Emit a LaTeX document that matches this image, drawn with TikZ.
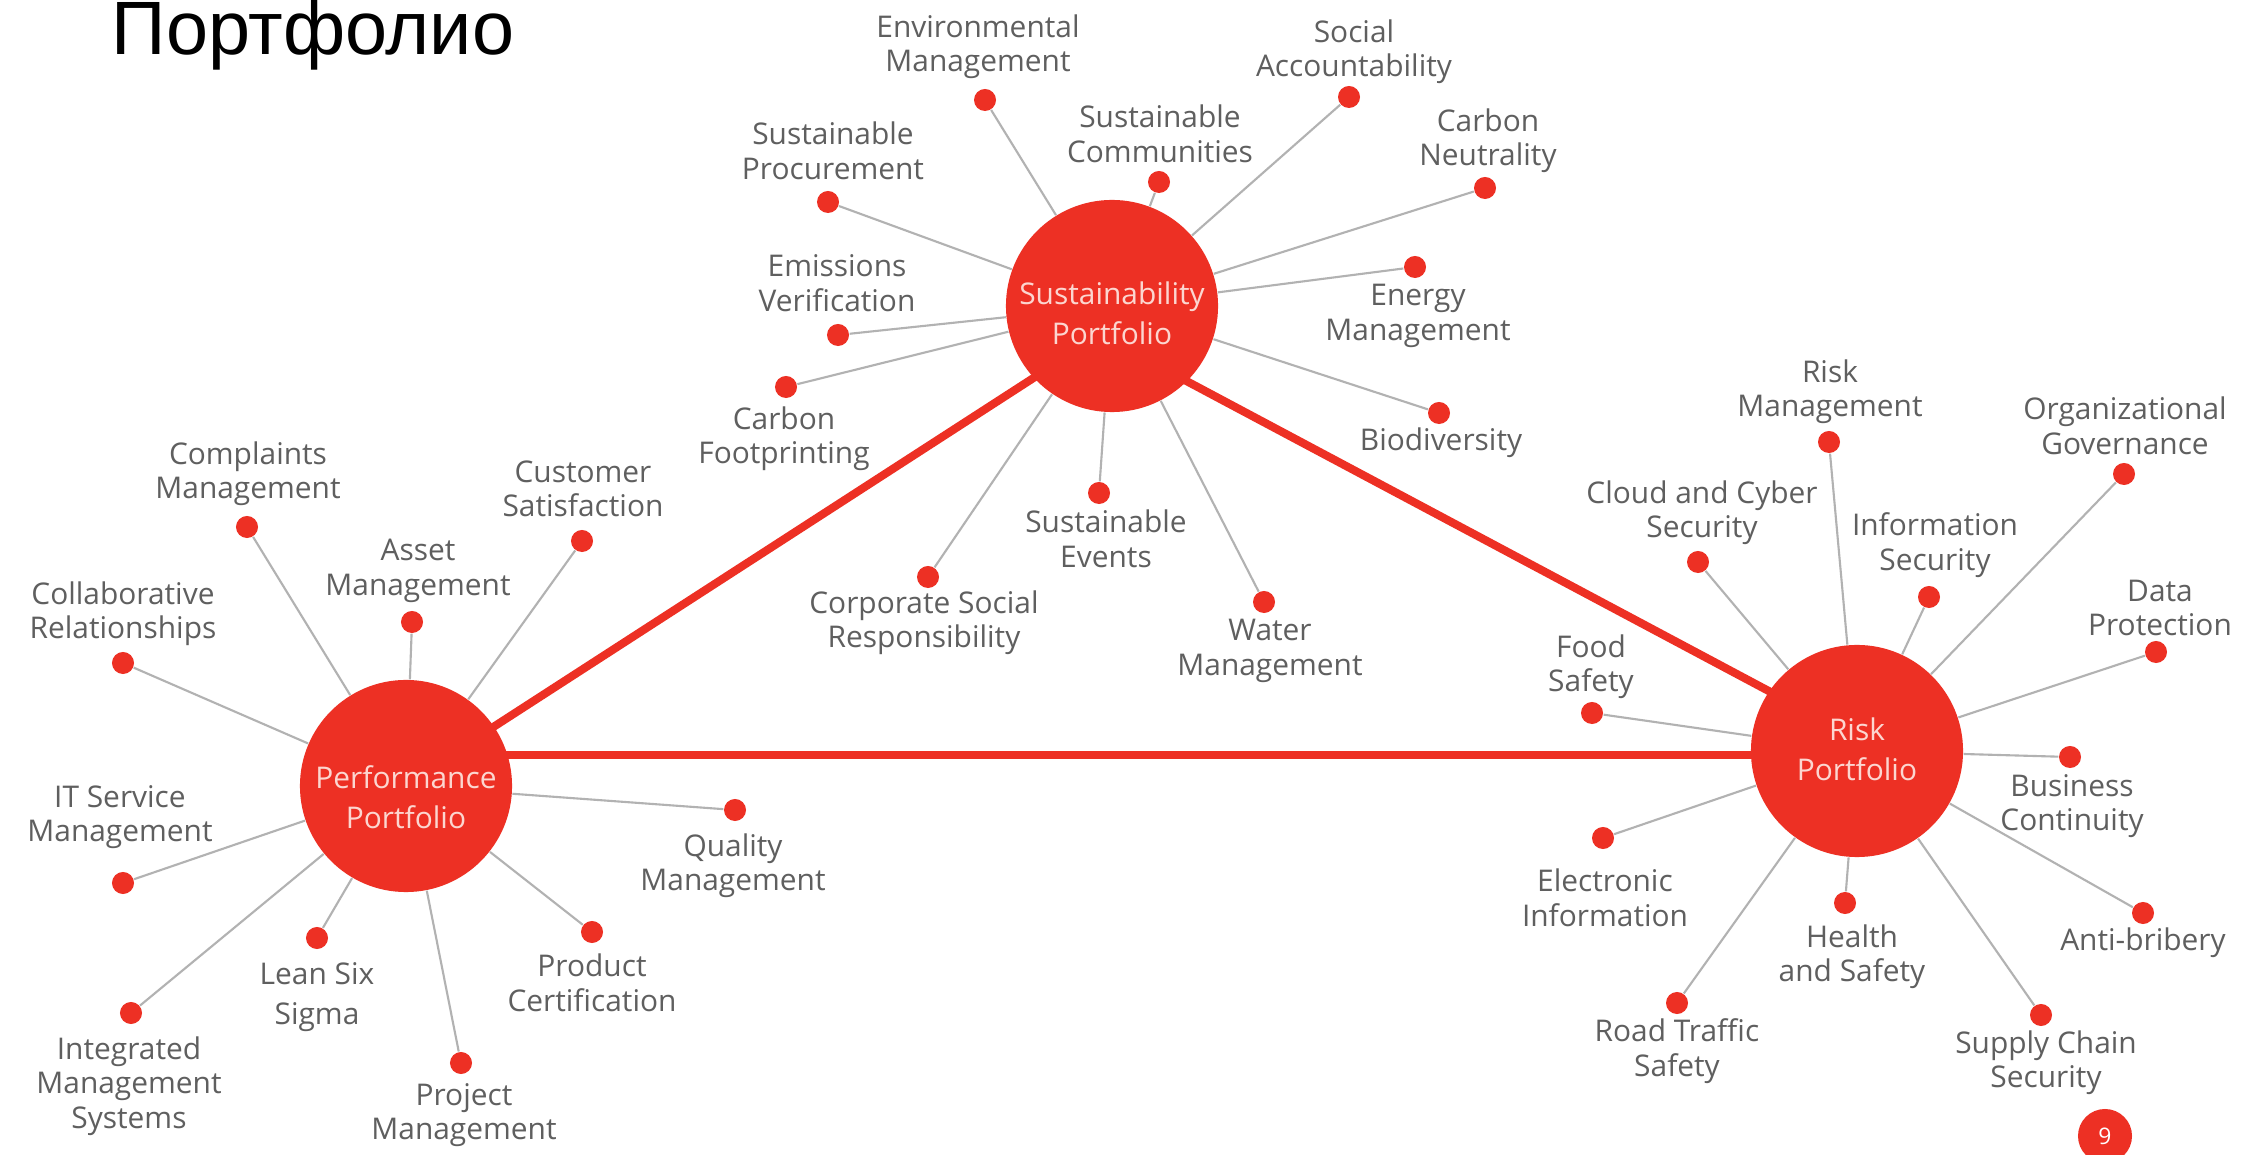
\documentclass[tikz,border=0pt]{standalone}
\usepackage{fontspec}
\setmainfont{Open Sans}
\newfontfamily\titlefont{Liberation Sans}
\definecolor{pred}{RGB}{237,48,36}
\definecolor{lblgray}{RGB}{95,95,95}
\definecolor{spokegray}{RGB}{178,178,178}
\definecolor{hubtext}{RGB}{252,214,208}
\begin{document}
\begin{tikzpicture}[x=0.01cm,y=-0.01cm,
  hubnode/.style={circle,fill=pred,minimum size=2.12cm,inner sep=0pt},
  hubtxt/.style={text=hubtext,align=center,inner sep=0pt,font=\fontsize{8.5}{11.4}\selectfont},
  dotnode/.style={circle,fill=pred,minimum size=0.22cm,inner sep=0pt},
  lbl/.style={text=lblgray,align=center,inner sep=0pt,font=\fontsize{8.5}{9.8}\selectfont},
  spoke/.style={spokegray,line width=0.6pt},
  tri/.style={pred,line width=2.3pt}]
\useasboundingbox (0,0) rectangle (2241,1155);
\fill[white] (0,0) rectangle (2241,1155);

% title
\node[anchor=base west,inner sep=0pt,font=\titlefont\fontsize{21.5}{24}\selectfont] (title) at (111,55) {Портфолио};

% triangle anchor points
\coordinate (tP) at (450,755);
\coordinate (tS) at (1100,335);
\coordinate (tRa) at (1857,738);
\coordinate (tRb) at (1857,755);
\draw[tri] (tP) -- (tRb);
\draw[tri] (tS) -- (tRa);

% hubs
\node[hubnode] (perf) at (406,786) {};
\draw[tri] (tP) -- (tS);
\node[hubnode] (sust) at (1112,306) {};
\node[hubnode] (risk) at (1857,751) {};
\node[hubtxt] (sustT) at (1112,313) {Sustainability\\Portfolio};
\node[hubtxt] (perfT) at (406,797) {Performance\\Portfolio};
\node[hubtxt] (riskT) at (1857,749) {Risk\\Portfolio};

% sustainability dots
\node[dotnode] (s1) at (985,100) {};
\node[dotnode] (s2) at (828,202) {};
\node[dotnode] (s3) at (838,335) {};
\node[dotnode] (s4) at (786,387) {};
\node[dotnode] (s5) at (928,577) {};
\node[dotnode] (s6) at (1099,493) {};
\node[dotnode] (s7) at (1264,602) {};
\node[dotnode] (s8) at (1439,413) {};
\node[dotnode] (s9) at (1415,267) {};
\node[dotnode] (s10) at (1485,188) {};
\node[dotnode] (s11) at (1349,97) {};
\node[dotnode] (s12) at (1159,182) {};
\foreach \d in {s1,s2,s3,s4,s5,s6,s7,s8,s9,s10,s11,s12} \draw[spoke] (sust) -- (\d);

\node[lbl] (s1l) at (978,47) {Environmental\\Management};
\node[lbl] (s2l) at (833,151) {Sustainable\\Procurement};
\node[lbl] (s3l) at (837,283) {Emissions\\Verification};
\node[lbl] (s4l) at (784,439) {Carbon\\Footprinting};
\node[lbl] (s5l) at (924,623) {Corporate Social\\Responsibility};
\node[lbl] (s6l) at (1106,539) {Sustainable\\Events};
\node[lbl] (s7l) at (1270,651) {Water\\Management};
\node[lbl] (s8l) at (1441,443) {Biodiversity};
\node[lbl] (s9l) at (1418,316) {Energy\\Management};
\node[lbl] (s10l) at (1488,141) {Carbon\\Neutrality};
\node[lbl] (s11l) at (1354,52) {Social\\Accountability};
\node[lbl] (s12l) at (1160,134) {Sustainable\\Communities};

% performance dots
\node[dotnode] (p1) at (247,527) {};
\node[dotnode] (p2) at (123,663) {};
\node[dotnode] (p3) at (412,622) {};
\node[dotnode] (p4) at (582,541) {};
\node[dotnode] (p5) at (123,883) {};
\node[dotnode] (p6) at (131,1013) {};
\node[dotnode] (p7) at (317,938) {};
\node[dotnode] (p8) at (461,1063) {};
\node[dotnode] (p9) at (592,932) {};
\node[dotnode] (p10) at (735,810) {};
\foreach \d in {p1,p2,p3,p4,p5,p6,p7,p8,p9,p10} \draw[spoke] (perf) -- (\d);

\node[lbl] (p1l) at (248,474) {Complaints\\Management};
\node[lbl] (p2l) at (123,614) {Collaborative\\Relationships};
\node[lbl] (p3l) at (418,571) {Asset\\Management};
\node[lbl] (p4l) at (583,489) {Customer\\Satisfaction};
\node[lbl] (p5l) at (120,817) {IT Service\\Management};
\node[lbl] (p6l) at (129,1086) {Integrated\\Management\\Systems};
\node[lbl,font=\fontsize{8.5}{11.4}\selectfont] (p7l) at (317,997) {Lean Six\\Sigma};
\node[lbl] (p8l) at (464,1115) {Project\\Management};
\node[lbl] (p9l) at (592,983) {Product\\Certification};
\node[lbl] (p10l) at (733,866) {Quality\\Management};

% risk dots
\node[dotnode] (r1) at (1829,442) {};
\node[dotnode] (r2) at (2124,474) {};
\node[dotnode] (r3) at (1698,562) {};
\node[dotnode] (r4) at (1929,597) {};
\node[dotnode] (r5) at (2156,652) {};
\node[dotnode] (r6) at (1592,713) {};
\node[dotnode] (r7) at (2070,757) {};
\node[dotnode] (r8) at (2143,913) {};
\node[dotnode] (r9) at (1603,838) {};
\node[dotnode] (r10) at (1845,903) {};
\node[dotnode] (r11) at (1677,1003) {};
\node[dotnode] (r12) at (2041,1015) {};
\foreach \d in {r1,r2,r3,r4,r5,r6,r7,r8,r9,r10,r11,r12} \draw[spoke] (risk) -- (\d);

\node[lbl] (r1l) at (1830,392) {Risk\\Management};
\node[lbl] (r2l) at (2125,426) {Organizational\\Governance};
\node[lbl] (r3l) at (1702,513) {Cloud and Cyber\\Security};
\node[lbl] (r4l) at (1935,545) {Information\\Security};
\node[lbl] (r5l) at (2160,608) {Data\\Protection};
\node[lbl] (r6l) at (1591,667) {Food\\Safety};
\node[lbl] (r7l) at (2072,806) {Business\\Continuity};
\node[lbl] (r8l) at (2143,943) {Anti-bribery};
\node[lbl] (r9l) at (1605,898) {Electronic\\Information};
\node[lbl] (r10l) at (1852,957) {Health\\and Safety};
\node[lbl] (r11l) at (1677,1051) {Road Traffic\\Safety};
\node[lbl] (r12l) at (2046,1063) {Supply Chain\\Security};

% page badge
\node[circle,fill=pred,minimum size=0.54cm,inner sep=0pt,text=white,font=\fontsize{6.5}{7}\selectfont] (page) at (2105,1136) {9};
\end{tikzpicture}
\end{document}
